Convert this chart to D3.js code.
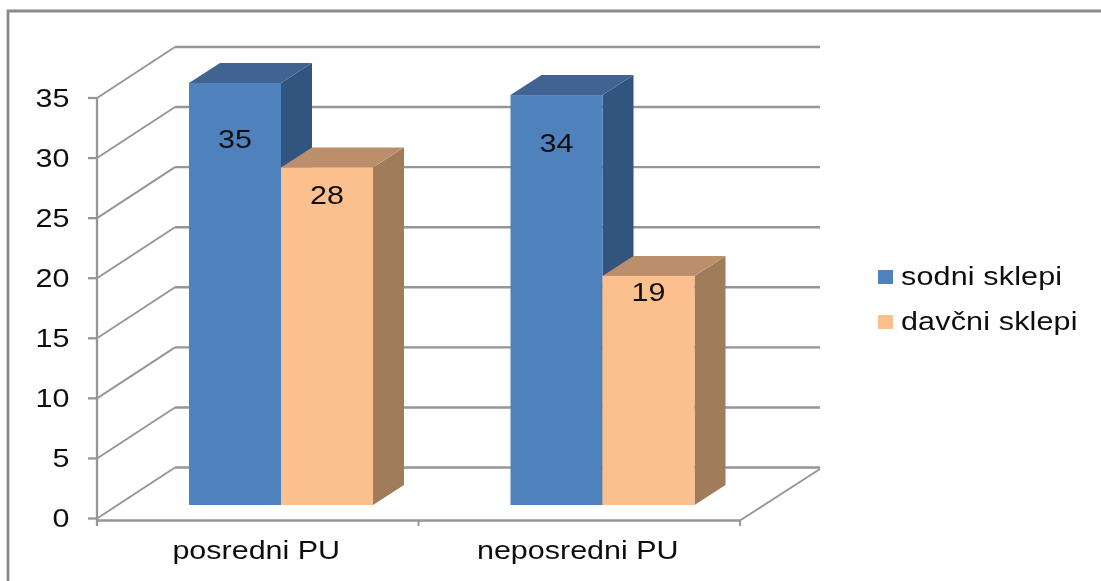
<!DOCTYPE html>
<html><head><meta charset="utf-8">
<script src="https://cdn.jsdelivr.net/npm/d3@7/dist/d3.min.js"></script>
<style>html,body{margin:0;padding:0;background:#fff;overflow:hidden}svg{display:block}
text{font-family:"Liberation Sans",Arial,sans-serif;fill:#111}</style></head>
<body><div id="chart"></div>
<script>
const categories = ["posredni PU", "neposredni PU"];
const seriesNames = ["sodni sklepi", "davčni sklepi"];
const sodniSklepi = [35, 34];
const davcniSklepi = [28, 19];
const yTicks = [0, 5, 10, 15, 20, 25, 30, 35];
const seriesValues = [sodniSklepi, davcniSklepi];

const W = 1101, H = 581;
const frontColors = ["#4F81BD", "#FBC08D"];
const topColors = ["#3F6491", "#BC8F6C"];
const sideColors = ["#335480", "#A07C5A"];
const grid = "#969696";
const wallDx = 78, wallDy = -51, barDx = 31, barDy = -20, fontSize = 26.5, stretch = 1.15;
// label nudges (px below the bar top), per series then category
const labelNudge = [[55, 47], [27, 16]];

const svg = d3.select("#chart").append("svg").attr("width", W).attr("height", H);
const defs = svg.append("defs");
defs.append("filter").attr("id", "soft").attr("filterUnits", "userSpaceOnUse")
  .attr("x", 0).attr("y", 0).attr("width", W).attr("height", H)
  .append("feGaussianBlur").attr("stdDeviation", 0.6);
const root = svg.append("g").attr("filter", "url(#soft)");

const yAxisScale = d3.scaleLinear().domain([0, 35]).range([518.5, 98]);
const yBar = d3.scaleLinear().domain([0, 35]).range([505, 83]);
const xCat = d3.scaleBand().domain(categories).range([97, 740]);
const barW = 92, barInset = 92;
const xSeries = d3.scaleBand().domain(d3.range(seriesNames.length)).range([0, barW * seriesNames.length]);

function label(g, x, y, str, anchor) {
  return g.append("text").attr("transform", `translate(${x},${y}) scale(${stretch},1)`)
    .attr("text-anchor", anchor).attr("font-size", fontSize).text(str);
}

// frame
root.append("path").attr("d", `M8,${H}V11H${W}`).attr("fill", "none").attr("stroke", "#8a8a8a").attr("stroke-width", 2.8);

// walls & gridlines
const gridG = root.append("g").attr("fill", "none").attr("stroke", grid);
yTicks.forEach(t => {
  const y = yAxisScale(t);
  gridG.append("path").attr("stroke-width", 2.3).attr("d", `M88,${y}H97`);
  gridG.append("path").attr("stroke-width", 1.9).attr("d", `M97,${y}L${97 + wallDx},${y + wallDy}`);
  gridG.append("path").attr("stroke-width", 2.4).attr("d", `M${97 + wallDx},${y + wallDy}H820`);
});
// axis lines + floor
gridG.append("path").attr("stroke-width", 2.3).attr("d", `M97,${yAxisScale(35)}V526`);
gridG.append("path").attr("stroke-width", 2.4).attr("d", `M97,520.5H740`);
gridG.append("path").attr("stroke-width", 1.9).attr("d", `M740,520.5L820,469`);
[...categories.map(c => xCat(c) + xCat.bandwidth()), 97].forEach(x =>
  gridG.append("path").attr("stroke-width", 2).attr("d", `M${x},520V526`));

// tick labels
yTicks.forEach(t => label(root, 69.5, yAxisScale(t) + 8.5, t, "end"));
categories.forEach(c => label(root, xCat(c) + xCat.bandwidth() / 2 - 1.5, 559, c, "middle"));

// bars
categories.forEach((c, ci) => {
  seriesNames.forEach((s, si) => {
    const v = seriesValues[si][ci];
    const x0 = xCat(c) + barInset + xSeries(si), x1 = x0 + xSeries.bandwidth();
    const yT = yBar(v), yB = yBar(0);
    const g = root.append("g");
    g.append("path").attr("fill", sideColors[si])
      .attr("d", `M${x1},${yT}L${x1 + barDx},${yT + barDy}V${yB + barDy}L${x1},${yB}Z`);
    g.append("path").attr("fill", topColors[si])
      .attr("d", `M${x0},${yT}L${x0 + barDx},${yT + barDy}H${x1 + barDx}L${x1},${yT}Z`);
    g.append("rect").attr("x", x0).attr("y", yT).attr("width", x1 - x0).attr("height", yB - yT).attr("fill", frontColors[si]);
  });
});
categories.forEach((c, ci) => {
  seriesNames.forEach((s, si) => {
    const v = seriesValues[si][ci];
    const cx = xCat(c) + barInset + xSeries(si) + xSeries.bandwidth() / 2;
    label(root, cx, yBar(v) + labelNudge[si][ci] + 9.5, v, "middle");
  });
});

// legend
const legendY = d3.scalePoint().domain(seriesNames).range([277, 322]);
seriesNames.forEach((s, si) => {
  root.append("rect").attr("x", 878).attr("y", legendY(s) - 7).attr("width", 15).attr("height", 14).attr("fill", frontColors[si]);
  label(root, 901, legendY(s) + 8, s, "start").attr("letter-spacing", 0.15);
});
</script></body></html>
